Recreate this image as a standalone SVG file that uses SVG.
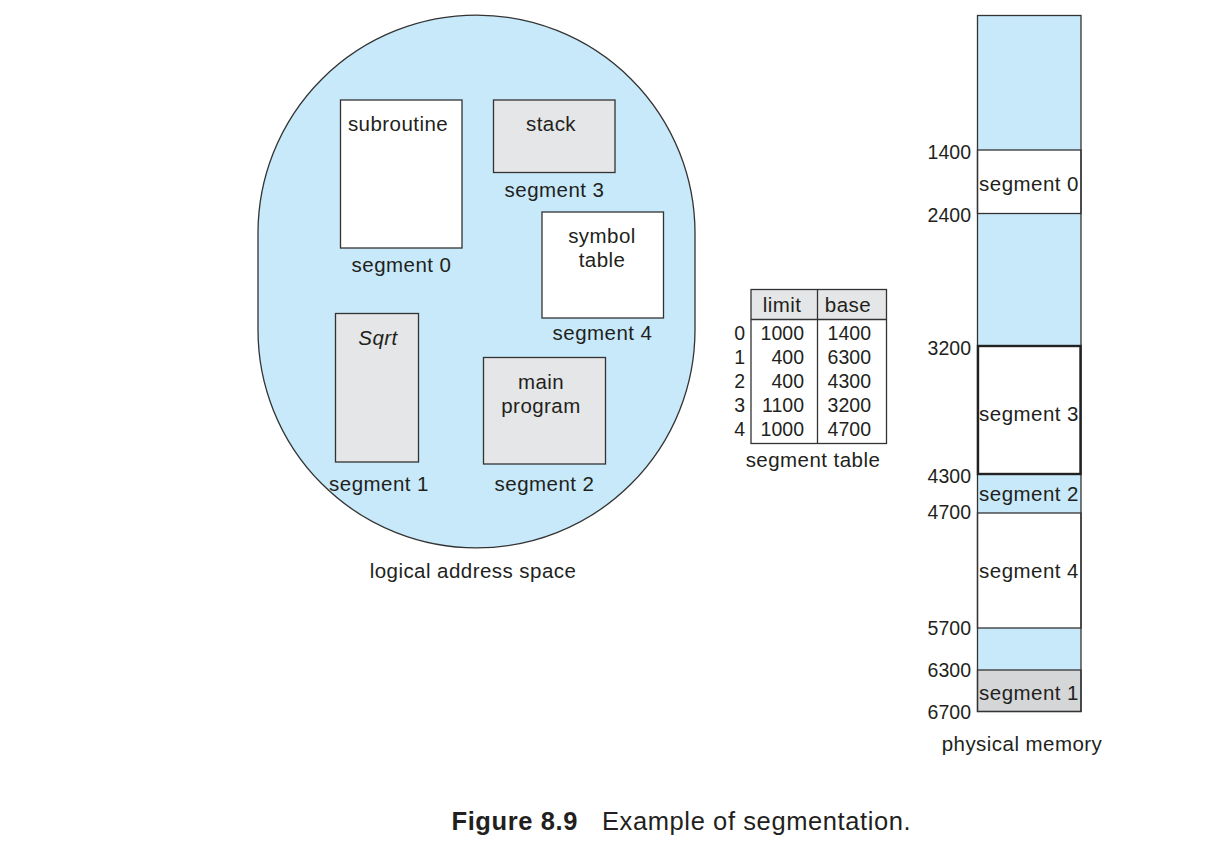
<svg xmlns="http://www.w3.org/2000/svg" width="1228" height="862" viewBox="0 0 1228 862">
<style>
text{font-family:"Liberation Sans",Arial,sans-serif;fill:#231f20}
.l{font-size:20.5px;letter-spacing:0.45px}
.c{text-anchor:middle}
.n{font-size:19.5px;text-anchor:end}
.box{stroke:#333;stroke-width:1.3}
.w{fill:#fff}
.g{fill:#e5e6e7}
.b{fill:#c7e9f9}
.cap{font-size:25.5px;letter-spacing:0.6px}
</style>
<rect width="1228" height="862" fill="#fff"/>
<g id="logical-space">
<path d="M258,233 A218.5,218 0 0 1 695,233 L695,330 A218.5,218 0 0 1 258,330 Z" class="b" stroke="#333" stroke-width="1.3"/>
<text x="473" y="578" class="l c">logical address space</text>
</g>
<g id="seg0-subroutine">
<rect x="340.5" y="100" width="121.5" height="148" class="box w"/>
<text x="398" y="131" class="l c">subroutine</text>
<text x="401.5" y="272" class="l c">segment 0</text>
</g>
<g id="seg3-stack">
<rect x="493.5" y="100" width="121.5" height="72.5" class="box g"/>
<text x="551" y="131" class="l c">stack</text>
<text x="554.5" y="197" class="l c">segment 3</text>
</g>
<g id="seg4-symbol-table">
<rect x="542" y="212" width="121.5" height="106" class="box w"/>
<text x="602" y="243" class="l c">symbol</text>
<text x="602" y="267" class="l c">table</text>
<text x="602.5" y="340" class="l c">segment 4</text>
</g>
<g id="seg1-sqrt">
<rect x="335.5" y="313.5" width="83" height="148.5" class="box g"/>
<text x="378" y="345" class="l c" font-style="italic">Sqrt</text>
<text x="379" y="491" class="l c">segment 1</text>
</g>
<g id="seg2-main">
<rect x="483.5" y="357.5" width="122" height="106.5" class="box g"/>
<text x="541" y="389" class="l c">main</text>
<text x="541" y="413" class="l c">program</text>
<text x="544.5" y="491" class="l c">segment 2</text>
</g>
<g id="segment-table">
<rect x="751" y="289.5" width="135.5" height="30" fill="#e5e6e7"/>
<rect x="751" y="289.5" width="135.5" height="154" fill="none" class="box"/>
<line x1="751" y1="319.5" x2="886.5" y2="319.5" class="box"/>
<line x1="817.5" y1="289.5" x2="817.5" y2="443.5" class="box"/>
<text x="782" y="312" class="l c">limit</text>
<text x="848" y="312" class="l c">base</text>
<text x="745" y="339.5" class="n">0</text>
<text x="745" y="363.5" class="n">1</text>
<text x="745" y="387.5" class="n">2</text>
<text x="745" y="411.5" class="n">3</text>
<text x="745" y="435.5" class="n">4</text>
<text x="804" y="339.5" class="n">1000</text>
<text x="804" y="363.5" class="n">400</text>
<text x="804" y="387.5" class="n">400</text>
<text x="804" y="411.5" class="n">1100</text>
<text x="804" y="435.5" class="n">1000</text>
<text x="871" y="339.5" class="n">1400</text>
<text x="871" y="363.5" class="n">6300</text>
<text x="871" y="387.5" class="n">4300</text>
<text x="871" y="411.5" class="n">3200</text>
<text x="871" y="435.5" class="n">4700</text>
<text x="813" y="467" class="l c">segment table</text>
</g>
<g id="physical-memory">
<rect x="977.5" y="15.5" width="103.5" height="696" class="b"/>
<rect x="977.5" y="150" width="103.5" height="63.5" class="box w"/>
<rect x="977.5" y="513" width="103.5" height="115" class="box w"/>
<rect x="977.5" y="670" width="103.5" height="41.5" fill="#d5d6d8" class="box"/>
<rect x="977.5" y="15.5" width="103.5" height="696" fill="none" class="box"/>
<rect x="978" y="346" width="102.5" height="128" fill="#fff" stroke="#222" stroke-width="2.4"/>
<text x="1029" y="191" class="l c">segment 0</text>
<text x="1029" y="421" class="l c">segment 3</text>
<text x="1029" y="501" class="l c">segment 2</text>
<text x="1029" y="578" class="l c">segment 4</text>
<text x="1029" y="699.5" class="l c">segment 1</text>
<text x="971" y="158.5" class="n">1400</text>
<text x="971" y="222" class="n">2400</text>
<text x="971" y="355" class="n">3200</text>
<text x="971" y="483" class="n">4300</text>
<text x="971" y="518.5" class="n">4700</text>
<text x="971" y="635" class="n">5700</text>
<text x="971" y="677" class="n">6300</text>
<text x="971" y="719" class="n">6700</text>
<text x="1022" y="751" class="l c">physical memory</text>
</g>
<g id="caption">
<text x="451.5" y="830" class="cap" font-weight="bold">Figure 8.9</text>
<text x="602" y="830" class="cap">Example of segmentation.</text>
</g>
</svg>
